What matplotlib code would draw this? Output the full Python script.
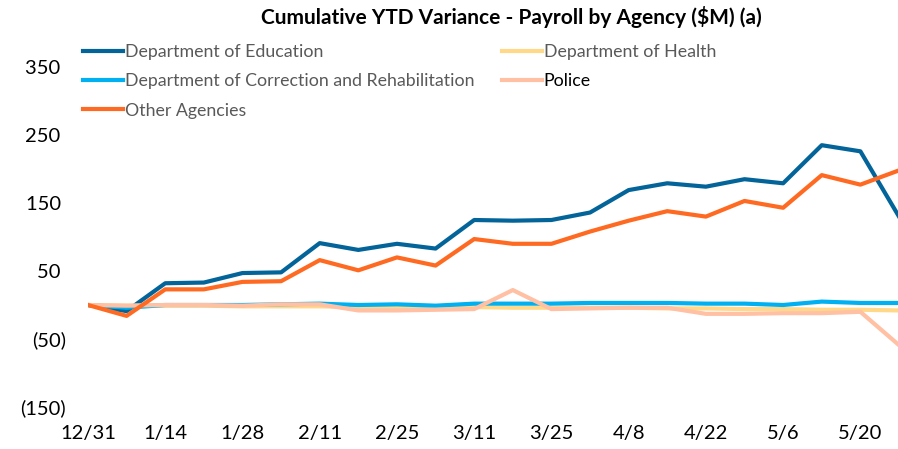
import numpy as np
import matplotlib.pyplot as plt

plt.rcParams['font.family'] = ['Lato', 'DejaVu Sans']

weeks = ["12/31", "1/7", "1/14", "1/21", "1/28", "2/4", "2/11", "2/18", "2/25", "3/4",
         "3/11", "3/18", "3/25", "4/1", "4/8", "4/15", "4/22", "4/29", "5/6", "5/13",
         "5/20", "5/27"]

education = [0, -9, 32, 33, 47, 48, 91, 81, 90, 83, 125, 124, 125, 136, 169, 179,
             174, 185, 179, 235, 226, 130]
health = [0, -1, -1, -1, -2, -2, -2, -3, -3, -3, -3, -4, -4, -4, -4, -5, -5, -6, -6,
          -7, -7, -8]
correction = [0, -4, 0, 0, 0, 1, 2, 0, 1, -1, 2, 2, 2, 3, 3, 3, 2, 2, 0, 5, 3, 3]
police = [0, -1, 0, 0, -1, 1, 1, -8, -8, -7, -6, 22, -6, -5, -4, -4, -13, -13, -12,
          -12, -10, -59]
other = [0, -16, 23, 23, 34, 35, 66, 51, 70, 58, 97, 90, 90, 108, 124, 138, 130, 153,
         143, 191, 177, 198]

y_ticks = [-150, -50, 50, 150, 250, 350]


def fmt(v):
    return "(%d)" % -v if v < 0 else "%d " % v


def main():
    fig = plt.figure(figsize=(8.98, 4.49), dpi=100)
    ax = fig.add_axes([88 / 898, 42 / 449, 811 / 898, 374 / 449])
    x = np.arange(len(weeks))

    lw = 3.0
    l_edu, = ax.plot(x, education, color="#03649A", lw=lw, label="Department of Education")
    l_hea, = ax.plot(x, health, color="#FFD88A", lw=lw, label="Department of Health")
    l_cor, = ax.plot(x, correction, color="#00B0F0", lw=lw,
                     label="Department of Correction and Rehabilitation")
    l_pol, = ax.plot(x, police, color="#FFC0A4", lw=lw, label="Police")
    l_oth, = ax.plot(x, other, color="#FF6A22", lw=lw, label="Other Agencies")

    ax.set_xlim(0, 21)
    ax.set_ylim(-150, 400)
    ax.set_xticks(x[::2])
    ax.set_xticklabels(weeks[::2])
    ax.set_yticks(y_ticks)
    ax.set_yticklabels([fmt(v) for v in y_ticks])
    ax.tick_params(axis="both", length=0, labelsize=14.5, colors="black")
    ax.tick_params(axis="y", pad=16)
    ax.tick_params(axis="x", pad=13)
    for s in ax.spines.values():
        s.set_visible(False)

    fig.text(0.5696, 0.963, "Cumulative YTD Variance - Payroll by Agency ($M) (a)",
             ha="center", va="center", fontsize=15, fontweight="bold")

    handles = [l_edu, l_cor, l_oth, l_hea, l_pol]
    leg = ax.legend(handles, [h.get_label() for h in handles],
                    ncol=2, loc="upper left", bbox_to_anchor=(83 / 898, 1 - 44 / 449),
                    bbox_transform=fig.transFigure, frameon=False, fontsize=12.8,
                    handlelength=2.25, handletextpad=0.1, columnspacing=1.55,
                    labelspacing=0.75, borderaxespad=0, borderpad=0)
    for t in leg.get_texts():
        t.set_color("#595959")
    leg.get_texts()[4].set_color("black")

    fig.savefig("out.png", dpi=100)


if __name__ == "__main__":
    main()
